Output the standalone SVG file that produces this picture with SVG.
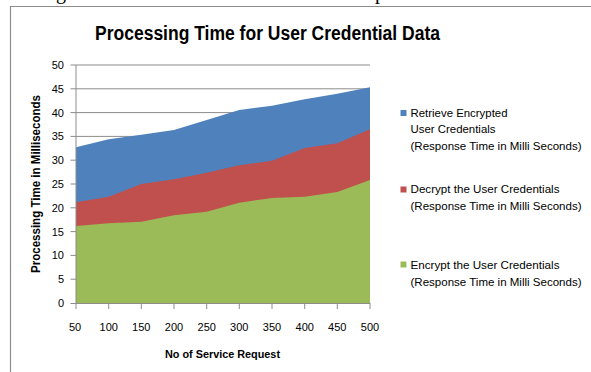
<svg xmlns="http://www.w3.org/2000/svg" width="591" height="372" viewBox="0 0 591 372">
<style>
text{font-family:"Liberation Sans",Arial,sans-serif;fill:#000}
.tick{font-size:11px}
.ylab{text-anchor:end}
.xlab{text-anchor:middle}
.leg{font-size:11px}
.grid{stroke:#8c8c8c;stroke-width:1}
.axis{stroke:#8c8c8c;stroke-width:1;fill:none}
.frag{font-family:"Liberation Serif","Times New Roman",serif;font-size:20px}
</style>
<rect x="0" y="0" width="591" height="372" fill="#fff"/>
<text class="frag" x="56" y="-0.8">g</text>
<text class="frag" x="375" y="-0.6">p</text>
<g id="frame" fill="none" stroke="#8c8c8c" stroke-width="1.2">
<path d="M10.5,372 V6.5 H591"/>
</g>
<g id="title">
<text x="267.5" y="39.5" text-anchor="middle" font-size="20" font-weight="bold" textLength="345" lengthAdjust="spacingAndGlyphs">Processing Time for User Credential Data</text>
</g>
<g id="gridlines">
<path class="grid" d="M76,279.2H370M76,255.4H370M76,231.6H370M76,207.8H370M76,184H370M76,160.2H370M76,136.4H370M76,112.6H370M76,88.8H370M76,65H370"/>
</g>
<g id="series-retrieve">
<polygon fill="#4F81BD" points="76,303 76,147.3 108.7,139.3 141.3,134.7 174,130 206.7,120 239.3,110 272,105.7 304.7,99.3 337.3,93.7 370,87.3 370,303"/>
</g>
<g id="series-decrypt">
<polygon fill="#C0504D" points="76,303 76,202.3 108.7,196.7 141.3,184 174,179.3 206.7,172.7 239.3,165.3 272,160.7 304.7,148 337.3,143.3 370,129.3 370,303"/>
</g>
<g id="series-encrypt">
<polygon fill="#9BBB59" points="76,303 76,226 108.7,223.3 141.3,221.7 174,215.3 206.7,211.7 239.3,202.7 272,198 304.7,196.7 337.3,192 370,180 370,303"/>
</g>
<g id="axes">
<path class="axis" d="M76,65V303.5M70.5,303.5H370M70.5,279.2H76M70.5,255.4H76M70.5,231.6H76M70.5,207.8H76M70.5,184H76M70.5,160.2H76M70.5,136.4H76M70.5,112.6H76M70.5,88.8H76M70.5,65H76"/>
<path class="axis" d="M76,303V309M108.7,303V309M141.3,303V309M174,303V309M206.7,303V309M239.3,303V309M272,303V309M304.7,303V309M337.3,303V309M370,303V309"/>
</g>
<g id="y-ticks" class="tick ylab">
<text x="64" y="307">0</text>
<text x="64" y="283.2">5</text>
<text x="64" y="259.4">10</text>
<text x="64" y="235.6">15</text>
<text x="64" y="211.8">20</text>
<text x="64" y="188">25</text>
<text x="64" y="164.2">30</text>
<text x="64" y="140.4">35</text>
<text x="64" y="116.6">40</text>
<text x="64" y="92.8">45</text>
<text x="64" y="69">50</text>
</g>
<g id="x-ticks" class="tick xlab">
<text x="75" y="331">50</text>
<text x="108.7" y="331">100</text>
<text x="141.3" y="331">150</text>
<text x="174" y="331">200</text>
<text x="206.7" y="331">250</text>
<text x="239.3" y="331">300</text>
<text x="272" y="331">350</text>
<text x="304.7" y="331">400</text>
<text x="337.3" y="331">450</text>
<text x="370" y="331">500</text>
</g>
<g id="y-title">
<text transform="translate(39.5,184) rotate(-90)" text-anchor="middle" font-size="12" font-weight="bold" textLength="178" lengthAdjust="spacingAndGlyphs">Processing Time in Milliseconds</text>
</g>
<g id="x-title">
<text x="222.5" y="358" text-anchor="middle" font-size="11.5" font-weight="bold" textLength="115" lengthAdjust="spacingAndGlyphs">No of Service Request</text>
</g>
<g id="legend-retrieve" class="leg">
<rect x="400.5" y="110" width="6" height="6" fill="#4F81BD"/>
<text x="410.5" y="116.5" textLength="97" lengthAdjust="spacingAndGlyphs">Retrieve Encrypted</text>
<text x="410.5" y="133.3" textLength="85" lengthAdjust="spacingAndGlyphs">User Credentials</text>
<text x="410.5" y="150" textLength="171" lengthAdjust="spacingAndGlyphs">(Response Time in Milli Seconds)</text>
</g>
<g id="legend-decrypt" class="leg">
<rect x="400.5" y="186.5" width="6" height="6" fill="#C0504D"/>
<text x="410.5" y="193.3" textLength="149" lengthAdjust="spacingAndGlyphs">Decrypt the User Credentials</text>
<text x="410.5" y="210" textLength="171" lengthAdjust="spacingAndGlyphs">(Response Time in Milli Seconds)</text>
</g>
<g id="legend-encrypt" class="leg">
<rect x="400.5" y="261.5" width="6" height="6" fill="#9BBB59"/>
<text x="410.5" y="269" textLength="149" lengthAdjust="spacingAndGlyphs">Encrypt the User Credentials</text>
<text x="410.5" y="285.7" textLength="171" lengthAdjust="spacingAndGlyphs">(Response Time in Milli Seconds)</text>
</g>
</svg>
